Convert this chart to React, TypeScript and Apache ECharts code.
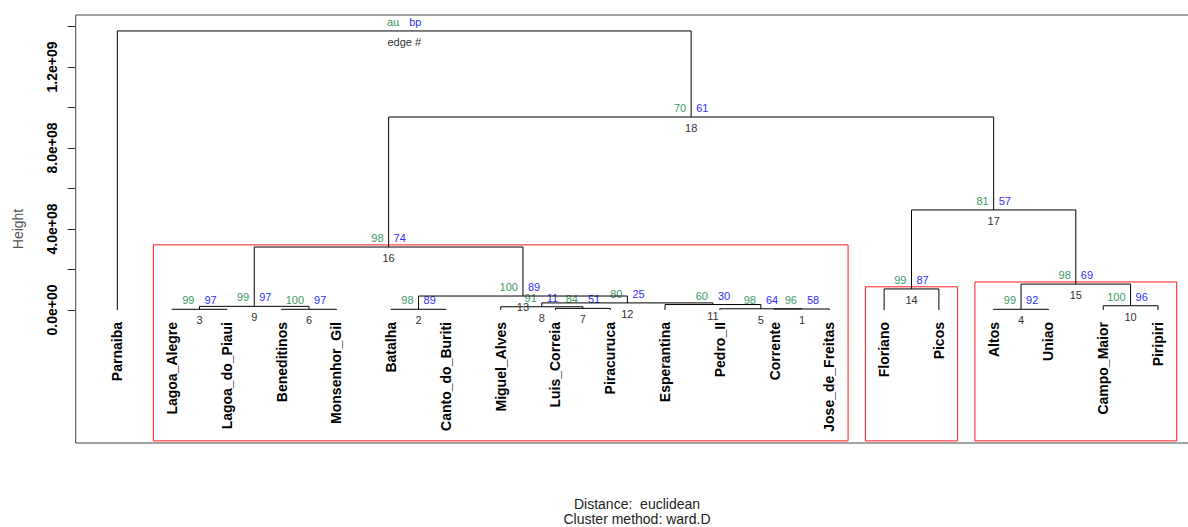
import React, { useEffect, useRef } from "react";
import * as echarts from "echarts";

// Leaves in dendrogram order (left to right)
const leaves = [
  "Parnaiba", "Lagoa_Alegre", "Lagoa_do_Piaui", "Beneditinos", "Monsenhor_Gil",
  "Batalha", "Canto_do_Buriti", "Miguel_Alves", "Luis_Correia", "Piracuruca",
  "Esperantina", "Pedro_II", "Corrente", "Jose_de_Freitas", "Floriano",
  "Picos", "Altos", "Uniao", "Campo_Maior", "Piripiri",
];

// Merges (edge # = index + 1). Negative = leaf position (1-based), positive = edge #
const mergeLeft = [-13, -6, -2, -17, -12, -4, -9, -8, 3, -19, -11, 8, 2, -15, 4, 9, 14, 16, -1];
const mergeRight = [-14, -7, -3, -18, 1, -5, -10, 7, 6, -20, 5, 11, 12, -16, 10, 13, 15, 17, 18];
const heights = [
  5e6, 3.5e6, 3.5e6, 3.5e6, 6e6, 3.5e6, 8e6, 16e6, 18e6, 21e6,
  27e6, 35e6, 69e6, 104e6, 128e6, 311e6, 494e6, 953e6, 1378e6,
];
// AU / BP values (%) for edges 1..18; last node (root) shows the legend
const au = [96, 98, 99, 99, 98, 100, 84, 91, 99, 100, 60, 80, 100, 99, 98, 98, 81, 70];
const bp = [58, 89, 97, 92, 64, 97, 51, 11, 97, 96, 30, 25, 89, 87, 69, 74, 57, 61];

// Clusters highlighted by pvrect (edge #)
const rectEdges = [16, 14, 15];

// Y axis
const yMin = 0;
const yMax = 1.4e9;
const yTickStep = 2e8;
const yLabelStep = 4e8;
// Full plot region (usr) in data units
const plotYLow = -6.568e8;
const plotYHigh = 1.4568e9;

const AU_COLOR = "#3c9a64";
const BP_COLOR = "#2f2fff";
const EDGE_COLOR = "#333333";
const FONT = "Liberation Sans, Arial, sans-serif";

function fmtExp(v: number): string {
  const s = v.toExponential(1);
  const [m, e] = s.split("e");
  const sign = e[0];
  const d = e.slice(1).padStart(2, "0");
  return m + "e" + sign + d;
}

export default function App() {
  const ref = useRef<HTMLDivElement>(null);

  useEffect(() => {
    if (!ref.current) return;
    const chart = echarts.init(ref.current, null, { renderer: "svg" });

    const n = leaves.length;
    const ext = 0.04 * (n - 1);
    const xMin = 1 - ext;
    const xMax = n + ext;

    // node positions
    const nodeXs: number[] = [];
    const members: number[][] = [];
    const cx = (c: number) => (c < 0 ? -c : nodeXs[c - 1]);
    const ch = (c: number) => (c < 0 ? 0 : heights[c - 1]);
    const cm = (c: number) => (c < 0 ? [-c] : members[c - 1]);
    for (let i = 0; i < heights.length; i++) {
      nodeXs.push((cx(mergeLeft[i]) + cx(mergeRight[i])) / 2);
      members.push([...cm(mergeLeft[i]), ...cm(mergeRight[i])]);
    }
    const nodeData = heights.map((h, i) => [
      cx(mergeLeft[i]), ch(mergeLeft[i]), cx(mergeRight[i]), ch(mergeRight[i]), h, i,
    ]);
    const leafData = leaves.map((_, i) => [i + 1, 0, i]);

    const mx = (xMax - xMin) / n / 3;
    const my = (plotYHigh - plotYLow) / 200;
    const rectData = rectEdges.map((e) => {
      const mem = members[e - 1];
      return [Math.min(...mem) - mx, heights[e - 1] + my, Math.max(...mem) + mx, plotYLow + my];
    });

    const numFont = { fontSize: 11, fontFamily: FONT };

    chart.setOption({
      animation: false,
      grid: { left: 75.7, top: 26.5, width: 1123.9, height: 283.5, containLabel: false },
      xAxis: { type: "value", min: xMin, max: xMax, show: false },
      yAxis: {
        type: "value",
        min: yMin,
        max: yMax,
        interval: yTickStep,
        axisLine: { show: false },
        splitLine: { show: false },
        axisTick: { show: true, length: 8, lineStyle: { color: "#333", width: 1 } },
        axisLabel: {
          rotate: 90,
          margin: 17,
          color: "#000",
          fontWeight: "bold",
          fontSize: 14,
          fontFamily: FONT,
          formatter: (v: number) => (Math.round(v) % yLabelStep === 0 ? fmtExp(v) : ""),
        },
      },
      graphic: [
        {
          type: "text",
          x: 18,
          y: 229,
          rotation: Math.PI / 2,
          style: { text: "Height", fill: "#555", fontSize: 14, fontFamily: FONT, align: "center", verticalAlign: "middle" },
        },
        {
          type: "text",
          x: 637,
          y: 504,
          style: { text: "Distance:  euclidean", fill: "#222", fontSize: 14, fontFamily: FONT, align: "center", verticalAlign: "middle" },
        },
        {
          type: "text",
          x: 637,
          y: 519,
          style: { text: "Cluster method: ward.D", fill: "#222", fontSize: 14, fontFamily: FONT, align: "center", verticalAlign: "middle" },
        },
      ],
      series: [
        {
          type: "custom",
          name: "frame",
          clip: false,
          silent: true,
          data: [[xMin, plotYHigh, xMax, plotYLow]],
          renderItem: (params: any, api: any) => {
            const p1 = api.coord([api.value(0), api.value(1)]);
            const p2 = api.coord([api.value(2), api.value(3)]);
            return {
              type: "rect",
              shape: { x: p1[0], y: p1[1], width: p2[0] - p1[0], height: p2[1] - p1[1] },
              style: { stroke: "#444", lineWidth: 1, fill: "none" },
            };
          },
        },
        {
          type: "custom",
          name: "pvrect",
          clip: false,
          silent: true,
          data: rectData,
          renderItem: (params: any, api: any) => {
            const p1 = api.coord([api.value(0), api.value(1)]);
            const p2 = api.coord([api.value(2), api.value(3)]);
            return {
              type: "rect",
              shape: { x: p1[0], y: p1[1], width: p2[0] - p1[0], height: p2[1] - p1[1] },
              style: { stroke: "#ff1a1a", lineWidth: 1, fill: "none" },
            };
          },
        },
        {
          type: "custom",
          name: "dendrogram",
          clip: false,
          silent: true,
          data: nodeData,
          renderItem: (params: any, api: any) => {
            const xl = api.value(0), hl = api.value(1), xr = api.value(2), hr = api.value(3);
            const h = api.value(4), idx = api.value(5);
            const pl = api.coord([xl, hl]);
            const plt = api.coord([xl, h]);
            const prt = api.coord([xr, h]);
            const pr = api.coord([xr, hr]);
            const pm = api.coord([(xl + xr) / 2, h]);
            const isRoot = idx === heights.length - 1;
            return {
              type: "group",
              children: [
                {
                  type: "polyline",
                  shape: { points: [pl, plt, prt, pr] },
                  style: { stroke: "#000", lineWidth: 1, fill: "none" },
                },
                {
                  type: "text",
                  x: pm[0] - 5,
                  y: pm[1] - 9,
                  style: { text: isRoot ? "au" : String(au[idx]), fill: AU_COLOR, align: "right", verticalAlign: "middle", ...numFont },
                },
                {
                  type: "text",
                  x: pm[0] + 5,
                  y: pm[1] - 9,
                  style: { text: isRoot ? "bp" : String(bp[idx]), fill: BP_COLOR, align: "left", verticalAlign: "middle", ...numFont },
                },
                {
                  type: "text",
                  x: pm[0],
                  y: pm[1] + 11,
                  style: { text: isRoot ? "edge #" : String(idx + 1), fill: EDGE_COLOR, align: "center", verticalAlign: "middle", ...numFont },
                },
              ],
            };
          },
        },
        {
          type: "custom",
          name: "leaves",
          clip: false,
          silent: true,
          data: leafData,
          renderItem: (params: any, api: any) => {
            const p = api.coord([api.value(0), api.value(1)]);
            return {
              type: "text",
              x: p[0],
              y: p[1] + 12,
              rotation: Math.PI / 2,
              style: {
                text: leaves[api.value(2)],
                fill: "#000",
                align: "right",
                verticalAlign: "middle",
                fontSize: 14,
                fontWeight: "bold",
                fontFamily: FONT,
              },
            };
          },
        },
      ],
    });

    return () => chart.dispose();
  }, []);

  return (
    <div
      style={{ position: "absolute", left: 0, top: 0, width: 1188, height: 527, overflow: "hidden", background: "#fff" }}
    >
      <div ref={ref} style={{ width: 1210, height: 527 }} />
    </div>
  );
}
